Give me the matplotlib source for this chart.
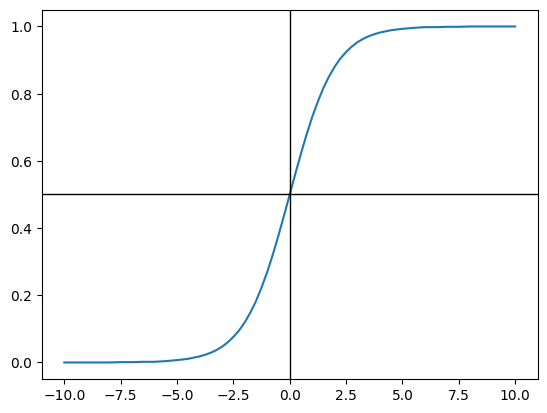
import matplotlib
matplotlib.use('Agg')
import matplotlib.pyplot as plt

# values
xs = [-10, -9.5, -9, -8.5, -8, -7.5, -7, -6.5, -6, -5.5, -5, -4.5, -4,
      -3.75, -3.5, -3.25, -3, -2.75, -2.5, -2.25, -2, -1.75, -1.5, -1.25,
      -1, -0.75, -0.5, -0.25, 0, 0.25, 0.5, 0.75, 1, 1.25, 1.5, 1.75, 2,
      2.25, 2.5, 2.75, 3, 3.25, 3.5, 3.75, 4, 4.5, 5, 5.5, 6, 6.5, 7, 7.5,
      8, 8.5, 9, 9.5, 10]
ys = [0.000, 0.000, 0.000, 0.000, 0.000, 0.001, 0.001, 0.002, 0.002, 0.004,
      0.007, 0.011, 0.018, 0.023, 0.029, 0.037, 0.047, 0.060, 0.076, 0.095,
      0.119, 0.148, 0.182, 0.223, 0.269, 0.321, 0.378, 0.438, 0.500, 0.562,
      0.622, 0.679, 0.731, 0.777, 0.818, 0.852, 0.881, 0.905, 0.924, 0.940,
      0.953, 0.963, 0.971, 0.977, 0.982, 0.989, 0.993, 0.996, 0.998, 0.998,
      0.999, 0.999, 1.000, 1.000, 1.000, 1.000, 1.000]

plt.figure(figsize=(6.4, 4.8))
plt.plot(xs, ys)
plt.axhline(0.5, color='k', linewidth=1)
plt.axvline(0.0, color='k', linewidth=1)
plt.savefig('out.png', dpi=100, bbox_inches='tight')
